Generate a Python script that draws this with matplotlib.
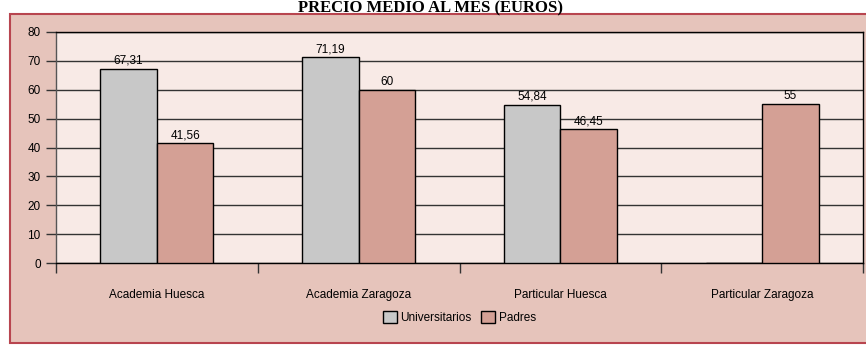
import numpy as np
import matplotlib.pyplot as plt
from matplotlib.patches import Rectangle

# Precio medio al mes por tipo de clase
categorias = ["Academia Huesca", "Academia Zaragoza", "Particular Huesca", "Particular Zaragoza"]
universitarios = [67.31, 71.19, 54.84, 0]
padres = [41.56, 60, 46.45, 55]
etiq_univ = ["67,31", "71,19", "54,84", ""]
etiq_padres = ["41,56", "60", "46,45", "55"]

plt.rcParams['font.family'] = ['Liberation Sans', 'DejaVu Sans']

fig = plt.figure(figsize=(8.66, 3.5), dpi=100)
fig.patch.set_facecolor('white')

# marco exterior rosado
fig.patches.append(Rectangle((10/866, 7/350), 1.0, 329/350, transform=fig.transFigure,
                             facecolor='#E6C4BB', edgecolor='#B8454F', lw=1.5, zorder=-1))

fig.text(0.497, 1.0 - 12/350, "PRECIO MEDIO AL MES (EUROS)", ha='center', va='baseline',
         fontsize=12, fontweight='bold', family='Liberation Serif')

ax = fig.add_axes([56/866, 1 - 263/350, 807/866, 231/350])
ax.set_zorder(2)
ax.set_facecolor('#F8EAE6')

x = np.arange(len(categorias))
w = 0.28
b1 = ax.bar(x - w/2, universitarios, w, color='#C8C8C8', edgecolor='black', lw=1,
            label='Universitarios', zorder=3)
b2 = ax.bar(x + w/2, padres, w, color='#D4A095', edgecolor='black', lw=1,
            label='Padres', zorder=3)

for rect, t in zip(b1, etiq_univ):
    if t:
        ax.text(rect.get_x() + rect.get_width()/2, rect.get_height() + 0.6, t,
                ha='center', va='bottom', fontsize=8.5)
for rect, t in zip(b2, etiq_padres):
    ax.text(rect.get_x() + rect.get_width()/2, rect.get_height() + 0.6, t,
            ha='center', va='bottom', fontsize=8.5)

ax.set_xlim(-0.5, 3.5)
ax.set_ylim(0, 80)
ax.set_yticks(np.arange(0, 81, 10))
ax.yaxis.grid(True, color='#333333', lw=1, zorder=1)
ax.tick_params(axis='y', length=7, width=1, labelsize=8.5, pad=4, color='#333333')

ax.set_xticks(np.arange(-0.5, 3.6, 1))
ax.set_xticklabels([])
ax.set_xticks(x, minor=True)
ax.set_xticklabels(categorias, minor=True, fontsize=8.5)
ax.tick_params(axis='x', which='major', length=7, width=1, direction='out', color='#333333')
ax.tick_params(axis='x', which='minor', length=0, pad=19)

for s in ax.spines.values():
    s.set_color('black')
    s.set_linewidth(1)
ax.spines['left'].set_color('#555555')

ax.legend(loc='upper center', bbox_to_anchor=(0.5, -0.16), ncol=2, frameon=False,
          fontsize=8.5, handlelength=1.2, handleheight=1.2, columnspacing=0.8,
          handletextpad=0.3)

fig.savefig('out.png', dpi=100)
